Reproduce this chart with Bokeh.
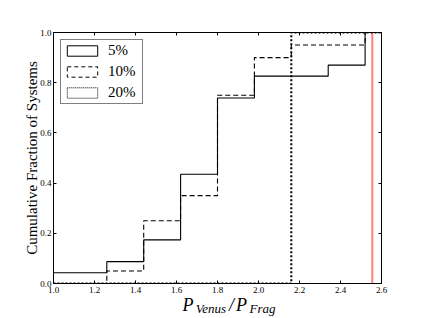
from bokeh.plotting import figure
from bokeh.models import (LinearAxis, FixedTicker, Range1d, Legend, LegendItem,
                          ColumnDataSource, PrintfTickFormatter)
from bokeh.embed import file_html
from bokeh.resources import INLINE

# ---- data ----
bin_edges = [1.00, 1.26, 1.44, 1.62, 1.80, 1.98, 2.16, 2.34, 2.52, 2.60]
cum_5 = [0.043, 0.087, 0.174, 0.435, 0.739, 0.826, 0.826, 0.870, 1.0]
cum_10 = [0.0, 0.05, 0.25, 0.35, 0.75, 0.90, 0.95, 0.95, 1.0]
cum_20 = [0.0, 0.0, 0.0, 0.0, 0.0, 0.0, 1.0, 1.0, 1.0]
series_labels = ["5%", "10%", "20%"]
venus_ratio = [2.555]
x_ticks = [1.0, 1.2, 1.4, 1.6, 1.8, 2.0, 2.2, 2.4, 2.6]
y_ticks = [0.0, 0.2, 0.4, 0.6, 0.8, 1.0]

SERIF = "Liberation Serif"
NAN = float("nan")

p = figure(width=424, height=318, output_backend="svg", toolbar_location=None,
           x_range=Range1d(1.0, 2.6), y_range=Range1d(0.0, 1.0),
           min_border_left=53, min_border_right=43, min_border_top=32,
           min_border_bottom=35, x_axis_location=None, y_axis_location=None)
p.grid.visible = False
p.outline_line_color = "black"
p.outline_line_width = 1
p.background_fill_color = "white"
p.border_fill_color = "white"


def make_axis(ticks, show_labels):
    ax = LinearAxis(ticker=FixedTicker(ticks=ticks))
    ax.major_tick_in = 3
    ax.major_tick_out = 0
    ax.minor_tick_line_color = None
    ax.axis_line_color = "black"
    ax.major_tick_line_color = "black"
    if show_labels:
        ax.formatter = PrintfTickFormatter(format="%.1f")
        ax.major_label_text_font = SERIF
        ax.major_label_text_font_size = "9px"
        ax.major_label_text_color = "black"
    else:
        ax.major_label_text_font_size = "0px"
        ax.major_label_text_alpha = 0
        ax.major_label_standoff = 0
    return ax


xb = make_axis(x_ticks, True)
xb.major_label_standoff = 3
p.add_layout(xb, "below")
p.add_layout(make_axis(x_ticks, False), "above")
yl = make_axis(y_ticks, True)
yl.major_label_standoff = 2
yl.axis_label = "Cumulative Fraction of Systems"
yl.axis_label_text_font = SERIF
yl.axis_label_text_font_size = "15px"
yl.axis_label_text_font_style = "normal"
yl.axis_label_text_color = "black"
yl.axis_label_standoff = -3
p.add_layout(yl, "left")
p.add_layout(make_axis(y_ticks, False), "right")

# ---- x axis label: P_Venus / P_Frag built from two label-only axes ----
main_pos = {1.656: "P", 1.868: "/", 1.917: "P"}
sub_pos = {1.768: "Venus", 2.020: "Frag"}


def text_axis(pos, size, standoff):
    ax = LinearAxis(ticker=FixedTicker(ticks=list(pos.keys())))
    ax.major_label_overrides = {k: v for k, v in pos.items()}
    ax.axis_line_color = None
    ax.major_tick_line_color = None
    ax.minor_tick_line_color = None
    ax.major_tick_in = 0
    ax.major_tick_out = 0
    ax.major_label_standoff = standoff
    ax.major_label_text_font = SERIF
    ax.major_label_text_font_style = "italic"
    ax.major_label_text_font_size = size
    ax.major_label_text_color = "black"
    return ax


p.add_layout(text_axis(main_pos, "18px", -1), "below")
p.add_layout(text_axis(sub_pos, "13px", -17), "below")

# ---- step curves ----
def step_y(vals):
    return vals + [vals[-1]]

p.step(bin_edges, step_y(cum_5), mode="after", line_color="black", line_width=1.1)
p.step(bin_edges, step_y(cum_10), mode="after", line_color="black", line_width=1.1,
       line_dash="5 3")
p.step(bin_edges, step_y(cum_20), mode="after", line_color="black", line_width=2,
       line_dash="2 2")

# Venus ratio
p.segment(x0=venus_ratio, x1=venus_ratio, y0=[0.0], y1=[1.0], line_color="red",
          line_alpha=0.5, line_width=2)

# ---- legend with rectangle handles ----
def handle(dash):
    src = ColumnDataSource(dict(left=[NAN], right=[NAN], top=[NAN], bottom=[NAN]))
    return p.quad(source=src, left="left", right="right", top="top", bottom="bottom",
                  fill_color=None, line_color="black", line_width=1, line_dash=dash)

h1 = handle("solid")
h2 = handle("4 3")
h3 = handle("1 1")
legend = Legend(items=[LegendItem(label=series_labels[0], renderers=[h1]),
                       LegendItem(label=series_labels[1], renderers=[h2]),
                       LegendItem(label=series_labels[2], renderers=[h3])],
                location="top_left", margin=7, padding=2, spacing=4,
                glyph_width=38, glyph_height=13, label_height=13, label_width=32,
                label_standoff=7, border_line_color="black", border_line_width=1,
                label_text_font=SERIF, label_text_font_size="15px",
                label_text_color="black", background_fill_alpha=1)
p.add_layout(legend, "center")

open("out.html", "w").write(file_html(p, INLINE))
